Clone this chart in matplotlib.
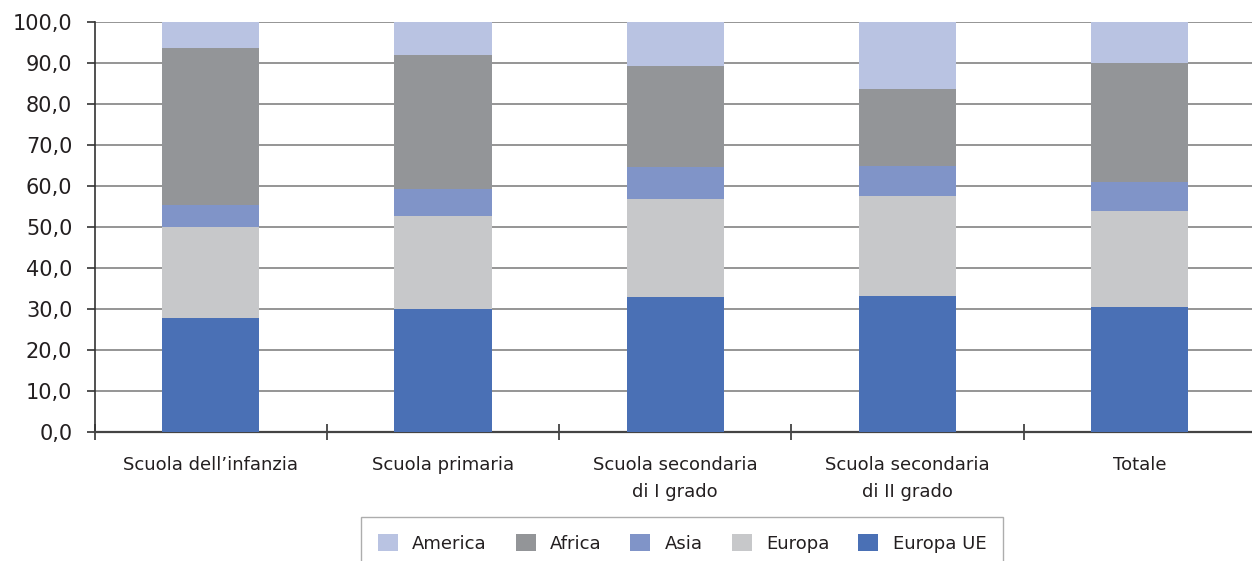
import matplotlib
matplotlib.use("Agg")
import matplotlib.pyplot as plt
import numpy as np
from matplotlib.ticker import FixedLocator, FuncFormatter

categories = ["Scuola dell\u2019infanzia", "Scuola primaria",
              "Scuola secondaria\ndi I grado", "Scuola secondaria\ndi II grado", "Totale"]
europa_ue = [27.8, 30.0, 32.9, 33.2, 30.5]
europa = [22.2, 22.7, 23.9, 24.4, 23.4]
asia = [5.4, 6.6, 7.8, 7.3, 7.1]
africa = [38.3, 32.7, 24.7, 18.8, 29.0]
america = [6.3, 8.0, 10.7, 16.3, 10.0]
yticks = [0, 10, 20, 30, 40, 50, 60, 70, 80, 90, 100]

series = [("Europa UE", europa_ue, "#4A70B5"),
          ("Europa", europa, "#C7C8CA"),
          ("Asia", asia, "#8094C8"),
          ("Africa", africa, "#939598"),
          ("America", america, "#B9C3E2")]

plt.rcParams['font.family'] = ['DejaVu Sans']
txt = '#231f20'

fig = plt.figure(figsize=(12.52, 5.61), dpi=100)
W, H = 1252, 561
left, right, top, bottom = 94.5, 1256, 22, 432
ax = fig.add_axes([left / W, 1 - bottom / H, (right - left) / W, (bottom - top) / H])

x = np.arange(len(categories))
base = np.zeros(len(categories))
handles = {}
for name, vals, col in series:
    b = ax.bar(x, vals, bottom=base, width=0.418, color=col, zorder=3, linewidth=0)
    handles[name] = b
    base += np.array(vals)

ax.set_xlim(-0.5, len(categories) - 0.5)
ax.set_ylim(0, 100)
ax.yaxis.set_major_locator(FixedLocator(yticks))
ax.yaxis.set_major_formatter(FuncFormatter(lambda v, p: f"{v:.1f}".replace(".", ",")))
ax.grid(axis='y', color='#8c8c8c', linewidth=1.3, zorder=0)
ax.set_axisbelow(True)

ax.set_xticks(x)
ax.set_xticklabels(categories, linespacing=1.65)
ax.set_xticks(np.arange(-0.5, len(categories) - 0.4, 1.0), minor=True)
ax.tick_params(axis='x', which='major', length=0, pad=17, labelsize=13, labelcolor=txt)
ax.tick_params(axis='x', which='minor', length=12, width=1.2, color='#333333', direction='inout')
ax.tick_params(axis='y', length=6, width=1.2, color='#333333', labelsize=15, labelcolor=txt, pad=10)

for s in ['top', 'right']:
    ax.spines[s].set_visible(False)
ax.spines['left'].set_color('#333333')
ax.spines['left'].set_linewidth(1.2)
ax.spines['bottom'].set_color('#444444')
ax.spines['bottom'].set_linewidth(1.6)

order = ["America", "Africa", "Asia", "Europa", "Europa UE"]
leg = fig.legend([handles[n] for n in order], order, ncol=5,
                 loc='upper center', bbox_to_anchor=(682 / W, 1 - 517 / H),
                 frameon=True, fancybox=False, edgecolor='#999999',
                 fontsize=13, handlelength=1.1, handleheight=1.1,
                 columnspacing=1.6, handletextpad=0.8, borderpad=0.95, borderaxespad=0)
leg.get_frame().set_linewidth(1.0)
for t in leg.get_texts():
    t.set_color(txt)

fig.savefig("out.png", dpi=100)
